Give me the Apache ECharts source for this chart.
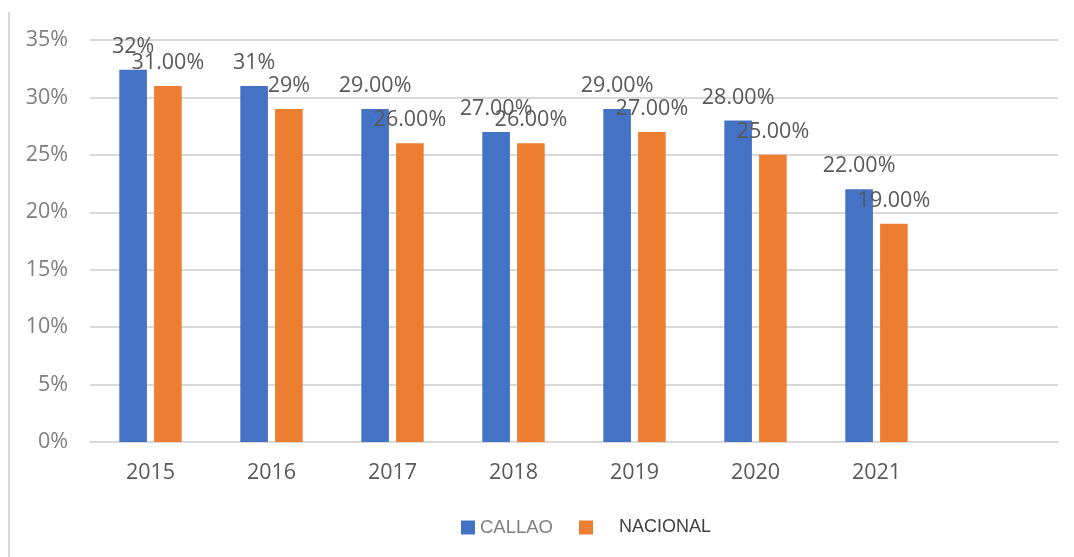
<!DOCTYPE html>
<html>
<head>
<meta charset="utf-8">
<script src="https://cdn.jsdelivr.net/npm/echarts@6/dist/echarts.min.js"></script>
<style>
  html, body { margin: 0; padding: 0; background: #fff; }
  #chart { width: 1074px; height: 557px; }
</style>
</head>
<body>
<div id="chart"></div>
<script>
// data
const years = ['2015', '2016', '2017', '2018', '2019', '2020', '2021', '']
const callao = [32.4, 31, 29, 27, 29, 28, 22]
const nacional = [31, 29, 26, 26, 27, 25, 19]
const callaoLabels = ['32%', '31%', '29.00%', '27.00%', '29.00%', '28.00%', '22.00%']
const nacionalLabels = ['31.00%', '29%', '26.00%', '26.00%', '27.00%', '25.00%', '19.00%']
const yTicks = { min: 0, max: 35, interval: 5 }

const chart = echarts.init(document.getElementById('chart'))

const labelStyle = function(texts) {
  return {
    show: true,
    position: 'top',
    distance: 12,
    fontFamily: 'Open Sans',
    fontSize: 21.5,
    color: '#595959',
    formatter: p => texts[p.dataIndex]
  }
}

const option = {
  animation: false,
  grid: { left: 90, right: 16, top: 40, bottom: 115 },
  legend: {
    left: 456,
    top: 513,
    icon: 'rect',
    itemWidth: 14,
    itemHeight: 14,
    itemGap: 26,
    textStyle: {
      fontFamily: 'Liberation Sans',
      fontSize: 18,
      rich: {
        a: { color: '#808080', fontFamily: 'Liberation Sans', fontSize: 18.5 },
        b: { color: '#404040', fontFamily: 'Liberation Sans', fontSize: 18, padding: [0, 0, 0, 21] }
      }
    },
    formatter: name => name === 'NACIONAL' ? '{b|' + name + '}' : '{a|' + name + '}',
    data: ['CALLAO', 'NACIONAL']
  },
  xAxis: {
    type: 'category',
    data: years,
    axisLine: { lineStyle: { color: '#d9d9d9', width: 2 } },
    axisTick: { show: false },
    axisLabel: { fontFamily: 'Open Sans', fontSize: 21.5, color: '#595959', margin: 20 }
  },
  yAxis: {
    type: 'value',
    min: yTicks.min,
    max: yTicks.max,
    interval: yTicks.interval,
    axisLine: { show: false },
    axisTick: { show: false },
    splitLine: { lineStyle: { color: '#d9d9d9', width: 2 } },
    axisLabel: { fontFamily: 'Open Sans', fontSize: 21.5, color: '#7f7f7f', margin: 22, formatter: '{value}%' }
  },
  graphic: [
    { type: 'line', shape: { x1: 9, y1: 12, x2: 9, y2: 557 }, style: { stroke: '#d9d9d9', lineWidth: 2 } }
  ],
  series: [
    {
      name: 'CALLAO',
      type: 'bar',
      data: callao,
      barWidth: 27.6,
      barGap: '26%',
      itemStyle: { color: '#4472c4' },
      label: labelStyle(callaoLabels)
    },
    {
      name: 'NACIONAL',
      type: 'bar',
      data: nacional,
      barWidth: 27.6,
      barGap: '26%',
      itemStyle: { color: '#ed7d31' },
      label: labelStyle(nacionalLabels)
    }
  ]
}

chart.setOption(option)
</script>
</body>
</html>
